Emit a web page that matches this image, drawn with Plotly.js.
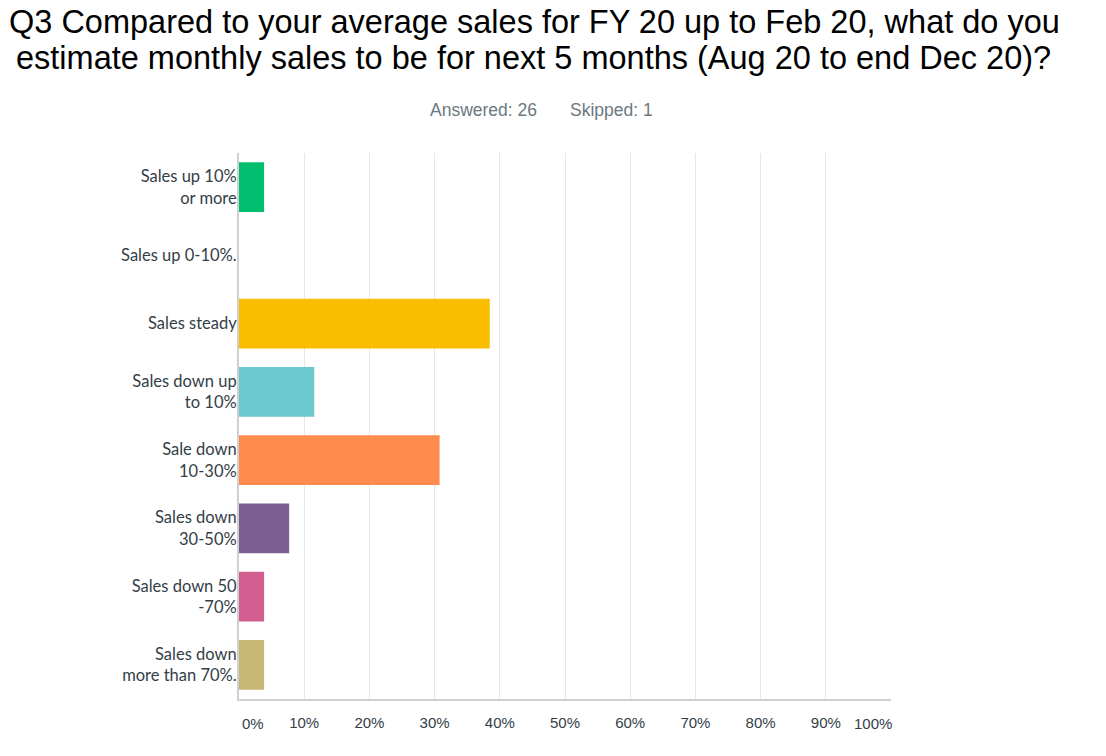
<!DOCTYPE html>
<html><head><meta charset="utf-8">
<script src="https://cdn.plot.ly/plotly-3.0.1.min.js"></script>
<style>body{margin:0;background:#fff}#chart{width:1106px;height:756px}</style>
</head><body><div id="chart"></div>
<script>
const titleLines = ["Q3 Compared to your average sales for FY 20 up to Feb 20, what do you","estimate monthly sales to be for next 5 months (Aug 20 to end Dec 20)?"];
const categories = ["Sales up 10%<br>or more","Sales up 0-10%.","Sales steady","Sales down up<br>to 10%","Sale down<br>10-30%","Sales down<br>30-50%","Sales down 50<br>-70%","Sales down<br>more than 70%."];
const values = [3.85, 0, 38.46, 11.54, 30.77, 7.69, 3.85, 3.85];
const colors = ["#00BF6F","#00BF6F","#F9BE00","#6BC8CD","#FF8B4F","#7D5E90","#D25F90","#C8B774"];
const tickVals = [0,10,20,30,40,50,60,70,80,90,100];
const tickText = ["","10%","20%","30%","40%","50%","60%","70%","80%","90%",""];

const trace = {type:"bar", orientation:"h", x: values, y: categories,
  marker:{color: colors}, hoverinfo:"x+y"};

const tf = {family:"Liberation Sans, Arial, sans-serif", size:15, color:"#333e48"};
const layout = {
  width:1106, height:756,
  margin:{l:239, r:215, t:153, b:57},
  paper_bgcolor:"#fff", plot_bgcolor:"#fff",
  bargap:0.27,
  showlegend:false,
  xaxis:{range:[0,100], tickvals:tickVals, ticktext:tickText, showgrid:true, gridcolor:"#e6e6e6", gridwidth:1,
    zeroline:false, showline:true, linecolor:"#d0d0d0", linewidth:2, ticks:"", fixedrange:true,
    ticklabelstandoff:9, tickfont:tf},
  yaxis:{autorange:"reversed", showgrid:false, zeroline:false, showline:true, linecolor:"#d0d0d0", linewidth:2,
    ticks:"", ticklabelstandoff:-3,
    tickfont:{family:"Lato, sans-serif", size:16.5, color:"#333e48"}},
  annotations:[
    {text:titleLines[0], xref:"paper", yref:"paper", x:0.453, y:1, yshift:131, xanchor:"center", yanchor:"middle", showarrow:false,
      font:{family:"Liberation Sans, Arial, sans-serif", size:32.5, color:"#000"}},
    {text:titleLines[1], xref:"paper", yref:"paper", x:0.452, y:1, yshift:95, xanchor:"center", yanchor:"middle", showarrow:false,
      font:{family:"Liberation Sans, Arial, sans-serif", size:32.5, color:"#000"}},
    {text:"Answered: 26", xref:"paper", yref:"paper", x:0.460, y:1, yshift:43, xanchor:"right", yanchor:"middle", showarrow:false,
      font:{family:"Liberation Sans, Arial, sans-serif", size:17.5, color:"#6b787f"}},
    {text:"Skipped: 1", xref:"paper", yref:"paper", x:0.504, y:1, yshift:43, xanchor:"left", yanchor:"middle", showarrow:false,
      font:{family:"Liberation Sans, Arial, sans-serif", size:17.5, color:"#6b787f"}},
    {text:"0%", xref:"x", yref:"paper", x:0, y:0, yshift:-24, xanchor:"left", yanchor:"middle", xshift:1, showarrow:false, font:tf},
    {text:"100%", xref:"x", yref:"paper", x:100, y:0, yshift:-24, xanchor:"right", yanchor:"middle", xshift:3, showarrow:false, font:tf}
  ]
};
Plotly.newPlot("chart",[trace],layout,{displayModeBar:false,staticPlot:true});
</script></body></html>
